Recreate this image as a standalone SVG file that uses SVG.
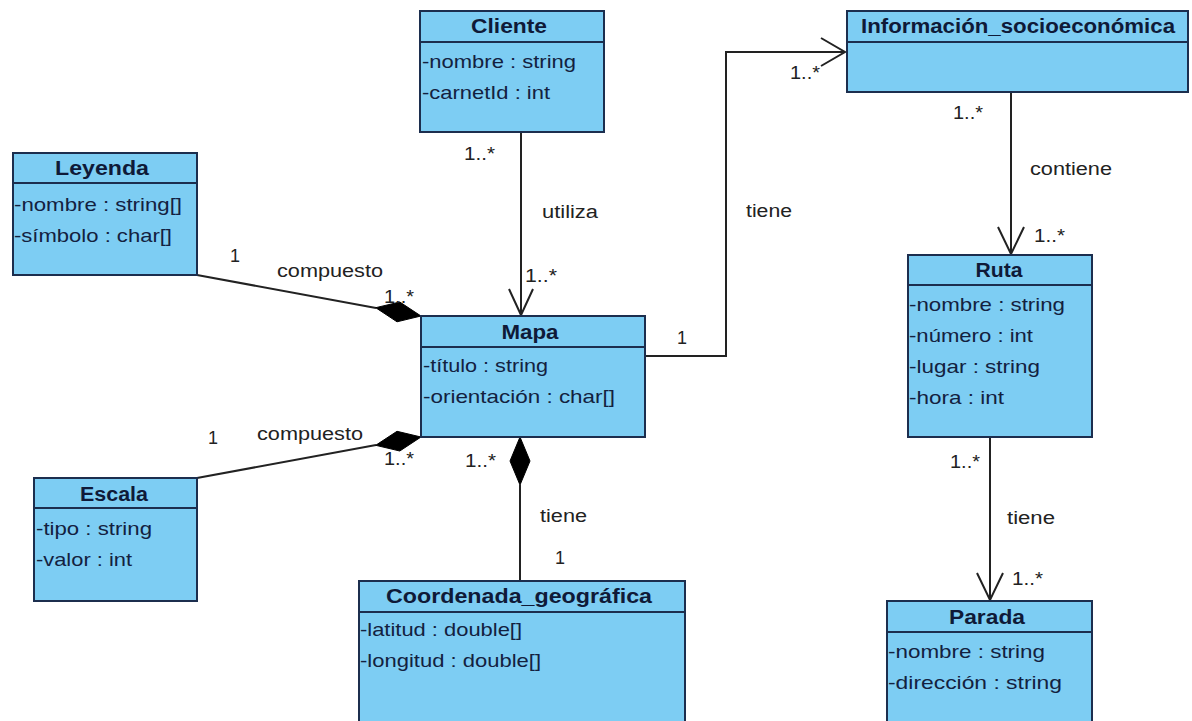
<svg xmlns="http://www.w3.org/2000/svg" width="1192" height="721" viewBox="0 0 1192 721">
<style>
.box{fill:#7dcdf3;stroke:#1c2e4e;stroke-width:2}
.sep{stroke:#1c2e4e;stroke-width:2}
.t{font-family:"Liberation Sans",Arial,sans-serif;font-weight:bold;font-size:20px;fill:#0f1a38;text-anchor:middle}
.a{font-family:"Liberation Sans",Arial,sans-serif;font-size:19px;fill:#13213f}
.l{font-family:"Liberation Sans",Arial,sans-serif;font-size:18px;fill:#222}
.ln{fill:none;stroke:#222;stroke-width:2}
.dm{fill:#000;stroke:#000;stroke-width:1}
</style>
<rect width="1192" height="721" fill="#fff"/>
<g id="connectors">
<!-- Cliente -> Mapa -->
<line class="ln" x1="521" y1="132" x2="521" y2="315"/>
<polyline class="ln" points="509,289 521,315 533,289"/>
<text class="l" x="464" y="160" textLength="31" lengthAdjust="spacingAndGlyphs">1..*</text>
<text class="l" x="542" y="218" textLength="56" lengthAdjust="spacingAndGlyphs">utiliza</text>
<text class="l" x="525" y="282" textLength="32" lengthAdjust="spacingAndGlyphs">1..*</text>
<!-- Leyenda -> Mapa -->
<line class="ln" x1="197" y1="275" x2="376" y2="308"/>
<polygon class="dm" points="421,316 399.8,302 375.7,307.7 397,321.8"/>
<text class="l" x="230" y="262">1</text>
<text class="l" x="277" y="277" textLength="106" lengthAdjust="spacingAndGlyphs">compuesto</text>
<text class="l" x="384" y="303" textLength="30" lengthAdjust="spacingAndGlyphs">1..*</text>
<!-- Escala -> Mapa -->
<line class="ln" x1="197" y1="478" x2="376" y2="445"/>
<polygon class="dm" points="421,437 397,431.3 375.7,445.3 399.8,451"/>
<text class="l" x="208" y="444">1</text>
<text class="l" x="257" y="440" textLength="106" lengthAdjust="spacingAndGlyphs">compuesto</text>
<text class="l" x="384" y="465" textLength="30" lengthAdjust="spacingAndGlyphs">1..*</text>
<!-- Mapa -> Coordenada -->
<line class="ln" x1="520" y1="485" x2="520" y2="581"/>
<polygon class="dm" points="520,437 530,461 520,485 510,461"/>
<text class="l" x="465" y="467" textLength="31" lengthAdjust="spacingAndGlyphs">1..*</text>
<text class="l" x="540" y="522" textLength="47" lengthAdjust="spacingAndGlyphs">tiene</text>
<text class="l" x="555" y="564">1</text>
<!-- Mapa -> Informacion -->
<polyline class="ln" points="645,356 726,356 726,52 845,52"/>
<polyline class="ln" points="821,38 845,52 821,66"/>
<text class="l" x="677" y="344">1</text>
<text class="l" x="746" y="217" textLength="46" lengthAdjust="spacingAndGlyphs">tiene</text>
<text class="l" x="790" y="79" textLength="30" lengthAdjust="spacingAndGlyphs">1..*</text>
<!-- Informacion -> Ruta -->
<line class="ln" x1="1011" y1="92" x2="1011" y2="254"/>
<polyline class="ln" points="998,227 1011,254 1024,227"/>
<text class="l" x="953" y="119" textLength="30" lengthAdjust="spacingAndGlyphs">1..*</text>
<text class="l" x="1030" y="175" textLength="82" lengthAdjust="spacingAndGlyphs">contiene</text>
<text class="l" x="1034" y="242" textLength="31" lengthAdjust="spacingAndGlyphs">1..*</text>
<!-- Ruta -> Parada -->
<line class="ln" x1="990" y1="437" x2="990" y2="600"/>
<polyline class="ln" points="977,573 990,600 1003,573"/>
<text class="l" x="950" y="468" textLength="30" lengthAdjust="spacingAndGlyphs">1..*</text>
<text class="l" x="1007" y="524" textLength="48" lengthAdjust="spacingAndGlyphs">tiene</text>
<text class="l" x="1012" y="585" textLength="31" lengthAdjust="spacingAndGlyphs">1..*</text>
</g>
<g id="cliente">
<rect class="box" x="420" y="11" width="184" height="121"/>
<line class="sep" x1="420" y1="42" x2="604" y2="42"/>
<text class="t" x="509" y="33" textLength="76" lengthAdjust="spacingAndGlyphs">Cliente</text>
<text class="a" x="422" y="68" textLength="154" lengthAdjust="spacingAndGlyphs">-nombre : string</text>
<text class="a" x="422" y="99" textLength="128" lengthAdjust="spacingAndGlyphs">-carnetId : int</text>
</g>
<g id="leyenda">
<rect class="box" x="13" y="153" width="184" height="122"/>
<line class="sep" x1="13" y1="183" x2="197" y2="183"/>
<text class="t" x="102" y="175" textLength="94" lengthAdjust="spacingAndGlyphs">Leyenda</text>
<text class="a" x="14" y="211" textLength="168" lengthAdjust="spacingAndGlyphs">-nombre : string[]</text>
<text class="a" x="14" y="242" textLength="158" lengthAdjust="spacingAndGlyphs">-símbolo : char[]</text>
</g>
<g id="mapa">
<rect class="box" x="421" y="316" width="224" height="121"/>
<line class="sep" x1="421" y1="347" x2="645" y2="347"/>
<text class="t" x="530" y="339" textLength="57" lengthAdjust="spacingAndGlyphs">Mapa</text>
<text class="a" x="423" y="372" textLength="125" lengthAdjust="spacingAndGlyphs">-título : string</text>
<text class="a" x="423" y="403" textLength="192" lengthAdjust="spacingAndGlyphs">-orientación : char[]</text>
</g>
<g id="informacion">
<rect class="box" x="847" y="11" width="341" height="81"/>
<line class="sep" x1="847" y1="42" x2="1188" y2="42"/>
<text class="t" x="1018" y="33" textLength="314" lengthAdjust="spacingAndGlyphs">Información_socioeconómica</text>
</g>
<g id="ruta">
<rect class="box" x="908" y="255" width="184" height="182"/>
<line class="sep" x1="908" y1="285" x2="1092" y2="285"/>
<text class="t" x="999" y="277" textLength="47" lengthAdjust="spacingAndGlyphs">Ruta</text>
<text class="a" x="909" y="311" textLength="156" lengthAdjust="spacingAndGlyphs">-nombre : string</text>
<text class="a" x="909" y="342" textLength="124" lengthAdjust="spacingAndGlyphs">-número : int</text>
<text class="a" x="909" y="373" textLength="131" lengthAdjust="spacingAndGlyphs">-lugar : string</text>
<text class="a" x="909" y="404" textLength="95" lengthAdjust="spacingAndGlyphs">-hora : int</text>
</g>
<g id="parada">
<rect class="box" x="887" y="601" width="205" height="130"/>
<line class="sep" x1="887" y1="632" x2="1092" y2="632"/>
<text class="t" x="987" y="624" textLength="76" lengthAdjust="spacingAndGlyphs">Parada</text>
<text class="a" x="888" y="658" textLength="157" lengthAdjust="spacingAndGlyphs">-nombre : string</text>
<text class="a" x="888" y="689" textLength="174" lengthAdjust="spacingAndGlyphs">-dirección : string</text>
</g>
<g id="escala">
<rect class="box" x="34" y="478" width="163" height="123"/>
<line class="sep" x1="34" y1="508" x2="197" y2="508"/>
<text class="t" x="114" y="501" textLength="68" lengthAdjust="spacingAndGlyphs">Escala</text>
<text class="a" x="36" y="535" textLength="116" lengthAdjust="spacingAndGlyphs">-tipo : string</text>
<text class="a" x="36" y="566" textLength="96" lengthAdjust="spacingAndGlyphs">-valor : int</text>
</g>
<g id="coordenada">
<rect class="box" x="359" y="581" width="326" height="150"/>
<line class="sep" x1="359" y1="612" x2="685" y2="612"/>
<text class="t" x="519" y="603" textLength="266" lengthAdjust="spacingAndGlyphs">Coordenada_geográfica</text>
<text class="a" x="360" y="636" textLength="162" lengthAdjust="spacingAndGlyphs">-latitud : double[]</text>
<text class="a" x="360" y="667" textLength="181" lengthAdjust="spacingAndGlyphs">-longitud : double[]</text>
</g>
</svg>
